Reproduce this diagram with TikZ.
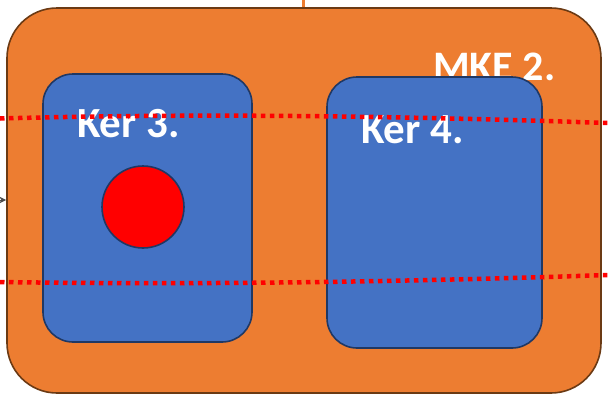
\documentclass[tikz,border=0pt]{standalone}
\usepackage{fontspec}
\setmainfont{Carlito}
\usetikzlibrary{arrows.meta}
\definecolor{mkeorange}{HTML}{ED7D31}
\definecolor{mkeborder}{HTML}{6B3A14}
\definecolor{kerblue}{HTML}{4472C4}
\definecolor{kerborder}{HTML}{203864}
\tikzset{
  outerbox/.style={draw=mkeborder, line width=1.6pt, fill=mkeorange, rounded corners=50pt, inner sep=0pt},
  kerbox/.style={draw=kerborder, line width=1.6pt, fill=kerblue, rounded corners=30pt, inner sep=0pt},
  lbl/.style={text=white, font=\bfseries\fontsize{43}{43}\selectfont, inner sep=0pt, anchor=base west},
  dotline/.style={draw=red, line width=4.5pt, dash pattern=on 4.5pt off 4.5pt},
  ball/.style={circle, draw=kerborder, line width=1.6pt, fill=red, minimum size=82pt, inner sep=0pt}
}
\begin{document}
\begin{tikzpicture}[x=1pt, y=-1pt]
\useasboundingbox (0,0) rectangle (608,399);
\node[outerbox, minimum width=594pt, minimum height=385pt] (mke) at (304,200.5) {};
\node[lbl, font=\bfseries\fontsize{42}{42}\selectfont] (mkelbl) at (433,80) {MKE 2.};
\node[kerbox, minimum width=209pt, minimum height=268pt] (ker3) at (147.5,208) {};
\node[kerbox, minimum width=215pt, minimum height=271pt] (ker4) at (434.5,212.5) {};
\node[lbl] (ker3lbl) at (77,137) {Ker 3.};
\node[lbl] (ker4lbl) at (361,143) {Ker 4.};
\node[ball] (dot) at (143,207) {};
\coordinate (t0) at (0,118.5);
\coordinate (t1) at (608,123);
\coordinate (b0) at (0,282);
\coordinate (b1) at (608,275);
\draw[dotline] (t0) .. controls (200,113) and (400,116) .. (t1);
\draw[dotline] (b0) .. controls (200,285) and (400,282) .. (b1);
\coordinate (topend) at (303.5,0);
\draw[mkeorange, line width=3pt] (topend) -- (mke.north -| topend);
\coordinate (arrstart) at (-2,200);
\draw[-{Stealth[length=7pt,width=7pt]}, draw=black!70, fill=black!70, line width=1pt] (arrstart) -- (mke.west |- arrstart);
\end{tikzpicture}
\end{document}
